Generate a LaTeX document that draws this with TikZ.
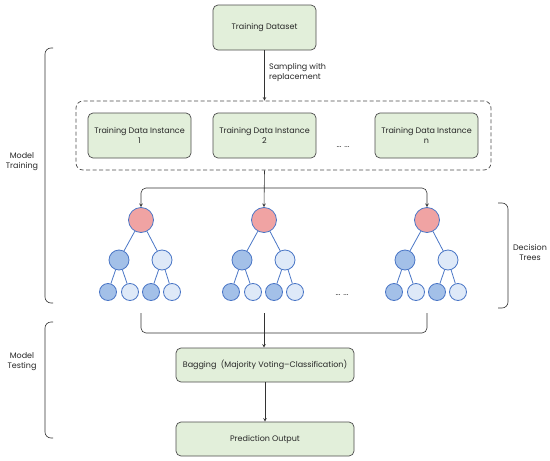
\documentclass[tikz,border=0pt]{standalone}
\usepackage{fontspec}
\setmainfont{Poppins}
\definecolor{boxgreen}{HTML}{E2EFDA}
\definecolor{rootred}{HTML}{F0A3A3}
\definecolor{leafdark}{HTML}{A3C0E8}
\definecolor{leaflight}{HTML}{DEE9F8}
\definecolor{treeblue}{HTML}{4A76C6}
\definecolor{txtgray}{HTML}{262626}

\begin{document}
\begin{tikzpicture}[x=1pt,y=-1pt,>=stealth,
  every node/.style={text=txtgray,font=\fontsize{8}{10}\selectfont},
  box/.style={draw=black!70,fill=boxgreen,rounded corners=5pt,line width=0.7pt,
    minimum width=103pt,minimum height=45pt,align=center,inner sep=1pt},
  widebox/.style={box,minimum width=178pt,minimum height=34pt},
  poolbox/.style={draw=black!70,dash pattern=on 4pt off 2.5pt,rounded corners=7pt,
    line width=0.7pt,minimum width=415pt,minimum height=69pt},
  tnode/.style={circle,draw=treeblue,line width=0.8pt,inner sep=0pt},
  rootnode/.style={tnode,fill=rootred,minimum size=25pt},
  dark/.style={tnode,fill=leafdark},
  light/.style={tnode,fill=leaflight},
  edge/.style={draw=treeblue,line width=0.8pt},
  link/.style={draw=black!80,line width=0.6pt}]
\useasboundingbox (0,0) rectangle (550,461);

% top part
\node[box] (data) at (264.5,27.5) {Training Dataset};
\node[poolbox] (pool) at (283.5,135.5) {};
\node[box] (inst1) at (139.5,135.5) {Training Data Instance\\1};
\node[box] (inst2) at (264.5,135.5) {Training Data Instance\\2};
\node[box] (instn) at (426.5,135.5) {Training Data Instance\\n};
\node (dotsa) at (343,147) {... ...};
\draw[link,->] (data) -- (data |- pool.north)
  node[pos=0.45,right,align=left,xshift=1pt] (samp) {Sampling with\\replacement};

% trees
\foreach \tx/\t in {141/a,264/b,427/c}{
  \node[rootnode] (r\t) at (\tx,220) {};
  \node[dark,minimum size=20pt] (l\t) at (\tx-22,260) {};
  \node[light,minimum size=20pt] (m\t) at (\tx+21,260) {};
  \node[dark,minimum size=17pt] (la\t) at (\tx-33,292) {};
  \node[light,minimum size=17pt] (lb\t) at (\tx-11,292) {};
  \node[dark,minimum size=17pt] (ma\t) at (\tx+10,292) {};
  \node[light,minimum size=17pt] (mb\t) at (\tx+31,292) {};
  \draw[edge] (r\t) -- (l\t);
  \draw[edge] (r\t) -- (m\t);
  \draw[edge] (l\t) -- (la\t);
  \draw[edge] (l\t) -- (lb\t);
  \draw[edge] (m\t) -- (ma\t);
  \draw[edge] (m\t) -- (mb\t);
}
\node (dotsb) at (342,295) {... ...};

\coordinate (split) at (264,188);
\draw[link,->] (inst2.south |- pool.south) -- (rb.north);
\draw[link,->,rounded corners=5pt] (split) -| (ra.north);
\draw[link,->,rounded corners=5pt] (split) -| (rc.north);

% bottom part
\node[widebox] (bag) at (265,365) {Bagging\ \ (Majority Voting--Classification)};
\node[widebox] (pred) at (265,439) {Prediction Output};
\coordinate (enda) at (141,313);
\coordinate (endb) at (264,313);
\coordinate (endc) at (427,313);
\coordinate (merge) at (264,333);
\draw[link,rounded corners=5pt] (enda) |- (merge) -| (endc);
\draw[link,->] (endb) -- (endb |- bag.north);
\draw[link,->] (bag) -- (pred);

% brackets
\draw[link,rounded corners=6pt] (53,48) -- (45,48) -- (45,303) -- (53,303);
\draw[link,rounded corners=6pt] (53,322) -- (45,322) -- (45,438) -- (53,438);
\draw[link,rounded corners=6pt] (498,203) -- (508,203) -- (508,308) -- (498,308);
\node[align=center] (train) at (22,162) {Model\\Training};
\node[align=center] (test) at (22,362) {Model\\Testing};
\node[align=center] (trees) at (530,252) {Decision\\Trees};
\end{tikzpicture}
\end{document}
